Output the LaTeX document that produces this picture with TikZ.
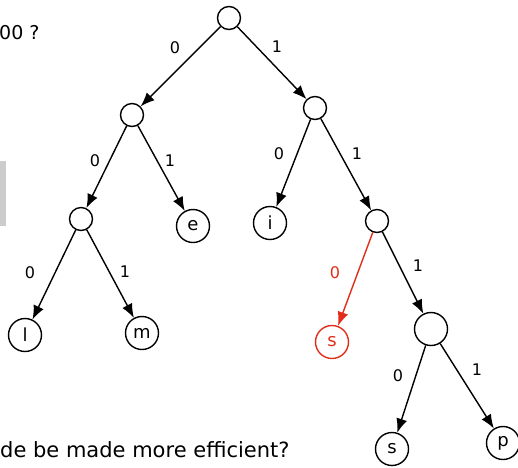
\documentclass[tikz,border=0pt]{standalone}
\usepackage{fontspec}
\setmainfont{DejaVu Sans}
\usetikzlibrary{arrows.meta}
\definecolor{hred}{RGB}{225,45,25}
\definecolor{boxgray}{RGB}{204,204,204}
\begin{document}
\begin{tikzpicture}[x=1pt,y=-1pt,
    inner/.style={draw,circle,minimum size=23pt,inner sep=0pt,line width=1.4pt},
    leaf/.style={draw,circle,minimum size=33pt,inner sep=0pt,line width=1.4pt,font=\fontsize{18}{18}\selectfont},
    edge/.style={-{Latex[length=14pt,width=11pt]},line width=1.4pt},
    lbl/.style={font=\fontsize{16}{16}\selectfont}]
    \useasboundingbox (0,0) rectangle (518,467);
    \fill[boxgray] (0,161) rectangle (6,226);
    \node[anchor=west,font=\fontsize{19}{19}\selectfont,inner sep=0pt] (q1) at (-1,33) {00 ?};
    \node[anchor=base west,font=\fontsize{21}{21}\selectfont,inner sep=0pt] (q2) at (0,457) {de be made more efficient?};
    % tree
    \node[inner] (r) at (229,18) {};
    \node[inner] (a) at (132,115) {};
    \node[inner] (b) at (315,108) {};
    \node[inner] (aa) at (81,219) {};
    \node[leaf] (e) at (193,226) {e};
    \node[leaf] (i) at (270,223) {i};
    \node[inner] (bb) at (377,221) {};
    \node[leaf] (l) at (25,335) {l};
    \node[leaf] (m) at (142,333) {m};
    \node[leaf,draw=hred,text=hred] (rs) at (332,342) {s};
    \node[leaf] (bbb) at (431,329) {};
    \node[leaf] (s) at (392,449) {s};
    \node[leaf] (p) at (503,443) {p};
    \foreach \u/\v/\t/\lx/\ly in {r/a/0/175/48, r/b/1/277/47, a/aa/0/95/161, a/e/1/170/161,
        b/i/0/279/154, b/bb/1/357/154, aa/l/0/30/273, aa/m/1/125/272,
        bb/bbb/1/418/266, bbb/s/0/398/376, bbb/p/1/477/370} {
        \draw[edge] (\u) -- (\v);
        \node[lbl] (t\u\v) at (\lx,\ly) {\t};
    }
    \draw[edge,hred] (bb) -- (rs);
    \node[lbl,text=hred] (tbbrs) at (335,273) {0};
\end{tikzpicture}
\end{document}
